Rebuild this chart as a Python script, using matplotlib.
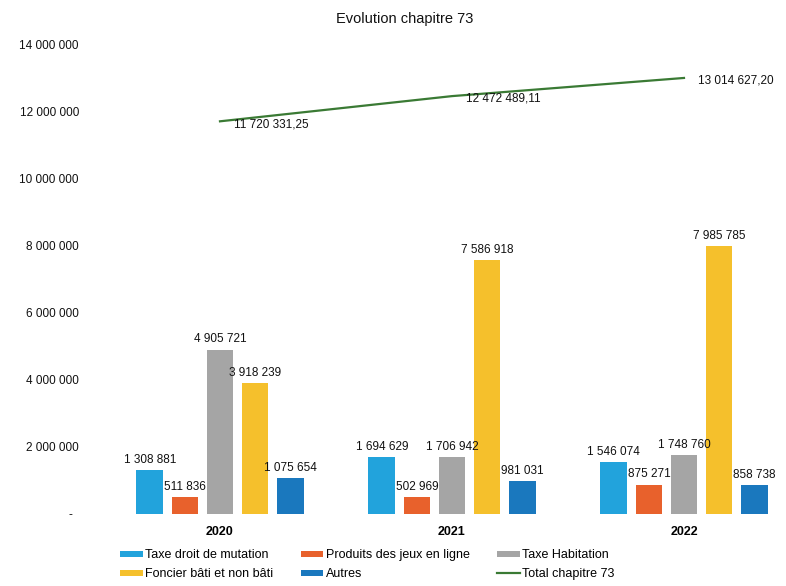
import matplotlib

matplotlib.use("Agg")
import matplotlib.pyplot as plt
from matplotlib.ticker import FuncFormatter
import numpy as np

plt.rcParams["font.family"] = ["Liberation Sans", "DejaVu Sans"]

annees = ["2020", "2021", "2022"]
series = [
    "Taxe droit de mutation",
    "Produits des jeux en ligne",
    "Taxe Habitation",
    "Foncier bâti et non bâti",
    "Autres",
]
taxe_mutation = [1308881, 1694629, 1546074]
jeux_en_ligne = [511836, 502969, 875271]
taxe_habitation = [4905721, 1706942, 1748760]
foncier = [3918239, 7586918, 7985785]
autres = [1075654, 981031, 858738]
total_chapitre = [11720331.25, 12472489.11, 13014627.20]

couleurs = ["#22A3DC", "#E8612C", "#A5A5A5", "#F5C02C", "#1A78BE"]
couleur_total = "#3A7A34"


def fr_nombre(v, decimales=0):
    s = f"{v:,.{decimales}f}".replace(",", " ").replace(".", ",")
    return s


def fmt_axe(v, _pos):
    if v == 0:
        return "-  "
    return fr_nombre(v)


fig = plt.figure(figsize=(7.86, 5.86), dpi=100)
ax = fig.add_axes([0.1323, 0.123, 0.8855, 0.8003])

x = np.arange(len(annees))
pas = 0.151
largeur = 0.116
valeurs = [taxe_mutation, jeux_en_ligne, taxe_habitation, foncier, autres]
handles = []
for i, (nom, vals, col) in enumerate(zip(series, valeurs, couleurs)):
    pos = x + (i - 2) * pas
    b = ax.bar(pos, vals, width=largeur, color=col, label=nom)
    handles.append(b)
    for px, v in zip(pos, vals):
        ax.annotate(fr_nombre(v), (px, v), xytext=(0, 3), textcoords="offset points",
                    ha="center", va="bottom", fontsize=8.5, color="#111111")

(ligne,) = ax.plot(x, total_chapitre, color=couleur_total, lw=1.6, label="Total chapitre 73")
handles.append(ligne)
for px, v in zip(x, total_chapitre):
    ax.annotate(fr_nombre(v, 2), (px, v), xytext=(10, -2), textcoords="offset points",
                ha="left", va="center", fontsize=8.5, color="#111111")

ax.set_xlim(-0.5, 2.5)
ax.set_ylim(0, 14_000_000)
ax.set_yticks(np.arange(0, 14_000_001, 2_000_000))
ax.yaxis.set_major_formatter(FuncFormatter(fmt_axe))
ax.set_xticks(x)
ax.set_xticklabels(annees, fontweight="bold", fontsize=9)
ax.tick_params(axis="y", length=0, pad=18, labelsize=8.5, labelcolor="#111111")
ax.tick_params(axis="x", length=0, pad=9)
for sp in ax.spines.values():
    sp.set_visible(False)

fig.text(0.515, 0.967, "Evolution chapitre 73", ha="center", va="center", fontsize=10.5,
         color="#111111")

# ordre colonne par colonne pour obtenir 2 lignes x 3 colonnes
ordre = [0, 3, 1, 4, 2, 5]
fig.legend([handles[i] for i in ordre], [handles[i].get_label() for i in ordre],
           ncol=3, loc="center left", bbox_to_anchor=(0.145, 0.036), frameon=False,
           fontsize=9, handlelength=1.8, handleheight=0.45, handletextpad=0.2,
           columnspacing=2.2, labelspacing=0.55, borderpad=0)

fig.savefig("out.png", dpi=100, facecolor="white")
